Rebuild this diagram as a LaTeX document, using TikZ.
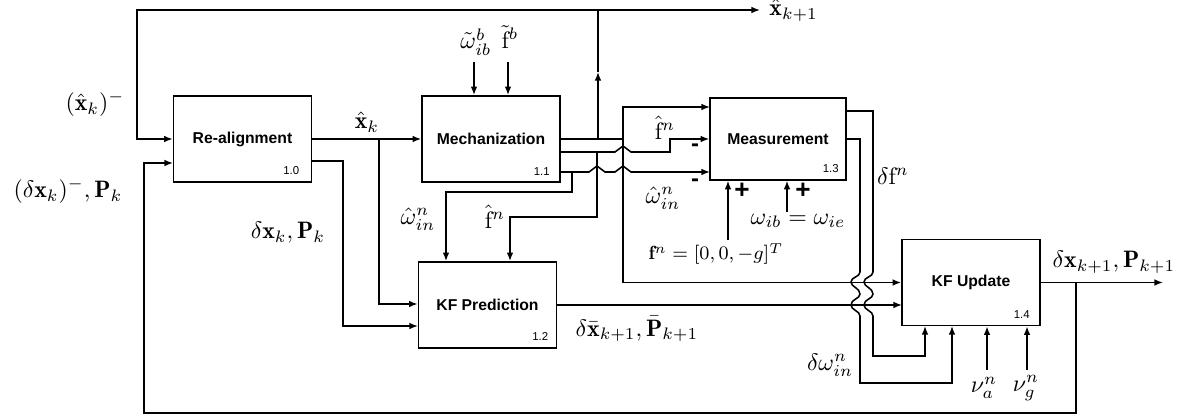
\documentclass[tikz,border=0pt]{standalone}
\usepackage{fontspec}
\newfontfamily\boxfont{Liberation Sans}
\usetikzlibrary{arrows.meta}
\tikzset{
    blk/.style={draw, line width=0.65pt, minimum width=58pt, minimum height=36.2pt, inner sep=0pt,
        font=\boxfont\bfseries\fontsize{6.6}{8}\selectfont},
    num/.style={inner sep=0pt, font=\boxfont\fontsize{4.8}{6}\selectfont},
    sig/.style={line width=0.65pt},
    arr/.style={sig, -{Latex[length=3.6pt,width=2.8pt]}},
    lbl/.style={inner sep=0pt},
    sgn/.style={inner sep=0pt, font=\boxfont\bfseries\fontsize{11}{12}\selectfont},
}
\begin{document}
\begin{tikzpicture}[x=0.42pt,y=-0.42pt]
    \useasboundingbox (0,0) rectangle (1190,418);

    \node[blk] (realign) at (242.5,139) {Re-alignment};
    \node[blk] (mech) at (491,139) {Mechanization};
    \node[blk, minimum width=57.1pt, minimum height=34.4pt] (meas) at (778,139) {Measurement};
    \node[blk] (pred) at (487.5,305) {KF Prediction};
    \node[blk] (update) at (971,282.5) {KF Update};

    \node[num] (realign-num) at ([shift={(-21,-12)}]realign.south east) {1.0};
    \node[num] (mech-num) at ([shift={(-19,-11)}]mech.south east) {1.1};
    \node[num] (pred-num) at ([shift={(-17,-12)}]pred.south east) {1.2};
    \node[num] (meas-num) at ([shift={(-16,-12)}]meas.south east) {1.3};
    \node[num] (update-num) at ([shift={(-19,-12)}]update.south east) {1.4};

    \node[lbl] (lxprev) at (95,104) {$(\hat{\mathbf{x}}_k)^-$};
    \node[lbl] (ldxprev) at (68,191) {$(\delta\mathbf{x}_k)^-, \mathbf{P}_k$};
    \node[lbl] (lxk) at (367,122) {$\hat{\mathbf{x}}_k$};
    \node[lbl] (ldxk) at (288,233) {$\delta\mathbf{x}_k, \mathbf{P}_k$};
    \node[lbl] (lwb) at (476,42) {$\tilde{\omega}_{ib}^{b}$};
    \node[lbl] (lfb) at (510,37) {$\tilde{\mathrm{f}}^{b}$};
    \node[lbl, anchor=base west] (lxnext) at (769,16) {$\hat{\mathbf{x}}_{k+1}$};
    \node[lbl] (lfn) at (665,128) {$\hat{\mathrm{f}}^{n}$};
    \node[lbl] (lwn) at (663,198) {$\hat{\omega}_{in}^{n}$};
    \node[lbl] (lwp) at (418,219) {$\hat{\omega}_{in}^{n}$};
    \node[lbl] (lfp) at (495,217) {$\hat{\mathrm{f}}^{n}$};
    \node[lbl] (lwib) at (798,221) {$\omega_{ib}=\omega_{ie}$};
    \node[lbl, font=\footnotesize] (lfg) at (716,254) {$\mathbf{f}^{n}=[0,0,-g]^{T}$};
    \node[lbl] (ldfn) at (893,176) {$\delta\mathrm{f}^{n}$};
    \node[lbl] (ldwn) at (830,365) {$\delta\omega_{in}^{n}$};
    \node[lbl] (lna) at (984,388) {$\nu_{a}^{n}$};
    \node[lbl] (lng) at (1026,388) {$\nu_{g}^{n}$};
    \node[lbl] (lpred) at (637,329) {$\delta\bar{\mathbf{x}}_{k+1}, \bar{\mathbf{P}}_{k+1}$};
    \node[lbl] (lout) at (1114,262) {$\delta\mathbf{x}_{k+1}, \mathbf{P}_{k+1}$};

    \node[sgn, font=\boxfont\bfseries\fontsize{10}{12}\selectfont] (minus1) at (695,148) {-};
    \node[sgn, font=\boxfont\bfseries\fontsize{10}{12}\selectfont] (minus2) at (695,183) {-};
    \node[sgn] (plus1) at (742,191) {+};
    \node[sgn] (plus2) at (803,191) {+};

    \coordinate (xup) at (598,139);
    \coordinate (xmid) at (598,72);
    \coordinate (xtop) at (598,10);
    \coordinate (xend) at (760,10);
    \coordinate (fbA) at (137,10);
    \coordinate (xright) at (623,139);
    \coordinate (mIn1) at (710,107);
    \draw[sig] (mech.east) -- (xright);
    \draw[arr] (xup) -- (xmid);
    \draw[sig] (xmid) -- (xtop);
    \draw[arr] (xtop) -- (xend);
    \draw[arr] (xtop) -- (fbA) |- (realign.west);
    \draw[arr] (xright) |- (mIn1);
    \draw[arr] (xright) |- (update.west);

    \coordinate (xkA) at (379,139);
    \coordinate (rA) at (312,161);
    \coordinate (rB) at (343,161);
    \coordinate (pIn2) at (418,326);
    \draw[arr] (realign.east) -- (mech.west);
    \draw[arr] (xkA) |- (pred.west |- 0,304);
    \draw[arr] (rA) -- (rB) |- (pIn2);

    \coordinate (wbA) at (474,62);
    \coordinate (fbB) at (508,62);
    \draw[arr] (wbA) -- (wbA |- mech.north);
    \draw[arr] (fbB) -- (fbB |- mech.north);

    \coordinate (mOut2) at (560,152);
    \coordinate (fpA) at (597,152);
    \coordinate (fpB) at (510,217);
    \draw[arr] (mOut2) -- (615,152) -- (623,146) -- (631,152) -- (670,152) -- (670,139) -- (meas.west);
    \draw[arr] (fpA) |- (fpB) -- (fpB |- pred.north);

    \coordinate (mOut3) at (560,172);
    \coordinate (mIn3) at (710,172);
    \coordinate (wpA) at (572,172);
    \coordinate (wpB) at (446,192);
    \draw[arr] (mOut3) -- (589,172) -- (597,166) -- (605,172) -- (615,172) -- (623,166) -- (631,172) -- (mIn3);
    \draw[arr] (wpA) |- (wpB) -- (wpB |- pred.north);

    \coordinate (uIn2) at (902,305);
    \draw[arr] (pred.east) -- (uIn2);

    \coordinate (gA) at (728,240);
    \coordinate (wA) at (787,212);
    \draw[arr] (gA) -- (gA |- meas.south);
    \draw[arr] (wA) -- (wA |- meas.south);

    \coordinate (dfA) at (846,111);
    \coordinate (uIn3) at (925,326);
    \draw[arr] (dfA) -- (873,111) -- (873,272)
        .. controls (873,277) and (864,277) .. (864,282)
        .. controls (864,287) and (873,288) .. (873,294)
        .. controls (873,299) and (864,299) .. (864,305)
        .. controls (864,310) and (873,311) .. (873,316)
        -- (873,356) -| (uIn3);
    \coordinate (dwA) at (846,139);
    \coordinate (uIn4) at (952,326);
    \draw[arr] (dwA) -- (860,139) -- (860,272)
        .. controls (860,277) and (851,277) .. (851,282)
        .. controls (851,287) and (860,288) .. (860,294)
        .. controls (860,299) and (851,299) .. (851,305)
        .. controls (851,310) and (860,311) .. (860,316)
        -- (860,383) -| (uIn4);

    \coordinate (naA) at (987,370);
    \coordinate (ngA) at (1027,370);
    \draw[arr] (naA) -- (naA |- update.south);
    \draw[arr] (ngA) -- (ngA |- update.south);

    \coordinate (uB) at (1076,282.5);
    \coordinate (uEnd) at (1163,282.5);
    \coordinate (fbC) at (1076,413);
    \coordinate (fbD) at (144,413);
    \coordinate (rIn) at (173,163);
    \draw[arr] (update.east) -- (uEnd);
    \draw[arr] (uB) -- (fbC) -- (fbD) |- (rIn);
\end{tikzpicture}
\end{document}
